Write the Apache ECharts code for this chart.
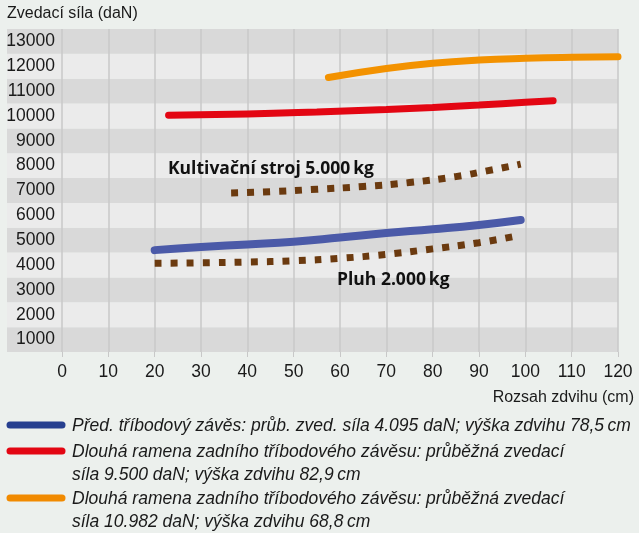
<!DOCTYPE html>
<html>
<head>
<meta charset="utf-8">
<script src="https://cdn.jsdelivr.net/npm/echarts@6/dist/echarts.min.js"></script>
<style>
html, body { margin: 0; padding: 0; background: #ecf0ed; }
#chart { width: 639px; height: 533px; }
</style>
</head>
<body>
<div id="chart"></div>
<script>
// tick labels
var yTicks = [1000, 2000, 3000, 4000, 5000, 6000, 7000, 8000, 9000, 10000, 11000, 12000, 13000];

// lifting force (daN) by lift range (cm)
var predni = [[20, 4600], [30, 4730], [40, 4830], [50, 4940], [60, 5110], [70, 5290], [80, 5440], [90, 5610], [99, 5810]];
var dlouhaRamena1 = [[23, 10030], [40, 10080], [55, 10160], [70, 10260], [80, 10340], [90, 10440], [100, 10550], [106, 10610]];
var dlouhaRamena2 = [[57.5, 11550], [70, 11910], [80, 12120], [90, 12250], [100, 12320], [110, 12360], [120, 12380]];
var kultivator = [[36.5, 6900], [45, 6950], [55, 7050], [65, 7160], [75, 7320], [85, 7560], [92, 7800], [99, 8060]];
var pluh = [[20, 4070], [30, 4090], [40, 4120], [50, 4170], [60, 4270], [70, 4430], [80, 4650], [90, 4900], [99, 5200]];

var legendNames = [
    'Před. tříbodový závěs: průb. zved. síla 4.095 daN; výška zdvihu 78,5\u2009cm',
    'Dlouhá ramena zadního tříbodového závěsu: průběžná zvedací\nsíla 9.500 daN; výška zdvihu 82,9\u2009cm',
    'Dlouhá ramena zadního tříbodového závěsu: průběžná zvedací\nsíla 10.982 daN; výška zdvihu 68,8\u2009cm'
];
var legendColors = ['#263f8f', '#e30613', '#f18a00'];
var legendY = [425, 451, 498];

var narrow = "'Liberation Sans Narrow', 'Liberation Sans', sans-serif";
var gridColor = '#c8c8c8';

var graphics = [
    { type: 'text', left: 7, top: 6, z: 100, style: { text: 'Zvedací síla (daN)', font: '16px ' + narrow, fill: '#1a1a1a' } },
    { type: 'text', right: 5, top: 390, z: 100, style: { text: 'Rozsah zdvihu (cm)', font: '16px ' + narrow, fill: '#1a1a1a' } },
    { type: 'text', left: 168, top: 160, z: 100, style: { text: 'Kultivační stroj 5.000\u2009kg', font: 'bold 17.5px "Open Sans", sans-serif', fill: '#111' } },
    { type: 'text', left: 337, top: 271, z: 100, style: { text: 'Pluh 2.000\u2009kg', font: 'bold 17.5px "Open Sans", sans-serif', fill: '#111' } }
];
legendNames.forEach(function (name, i) {
    graphics.push({
        type: 'line', z: 100,
        shape: { x1: 10, y1: legendY[i], x2: 62, y2: legendY[i] },
        style: { stroke: legendColors[i], lineWidth: 7, lineCap: 'round' }
    });
    graphics.push({
        type: 'text', left: 72, top: legendY[i] - 11, z: 100,
        style: { text: name, font: 'italic 17.5px ' + narrow, fill: '#1a1a1a', lineHeight: 23.5 }
    });
});

var chart = echarts.init(document.getElementById('chart'));
chart.setOption({
    backgroundColor: '#ecf0ed',
    animation: false,
    grid: [
        { left: 7, right: 21, top: 29, bottom: 181 },   // bands behind the labels
        { left: 62, right: 21, top: 29, bottom: 181 }   // data
    ],
    xAxis: [
        { gridIndex: 0, type: 'value', min: 0, max: 1, show: false },
        {
            gridIndex: 1, type: 'value', min: 0, max: 120, interval: 10,
            axisLine: { show: false },
            axisTick: { show: true, length: 5, lineStyle: { color: gridColor } },
            axisLabel: { color: '#1a1a1a', fontFamily: narrow, fontSize: 17.5, margin: 11 },
            splitLine: { show: true, lineStyle: { color: gridColor, width: 1.5 } }
        }
    ],
    yAxis: [
        {
            gridIndex: 0, type: 'value', min: 500, max: 13500, interval: 1000,
            axisLine: { show: false }, axisTick: { show: false }, axisLabel: { show: false },
            splitLine: { show: false },
            splitArea: { show: true, areaStyle: { color: ['#d9d9d9', '#ebebeb'] } }
        },
        {
            gridIndex: 1, type: 'value', min: 500, max: 13500,
            axisLine: { show: false }, axisTick: { show: false },
            splitLine: { show: false },
            axisLabel: {
                customValues: yTicks, color: '#1a1a1a', fontFamily: narrow, fontSize: 17.5, margin: 7,
                formatter: function (v) { return String(v); }
            }
        }
    ],
    graphic: graphics,
    series: [
        { name: legendNames[0], type: 'line', xAxisIndex: 1, yAxisIndex: 1, data: predni, smooth: true, symbol: 'none',
          lineStyle: { color: '#4b5aa8', width: 8, cap: 'round' } },
        { name: legendNames[1], type: 'line', xAxisIndex: 1, yAxisIndex: 1, data: dlouhaRamena1, smooth: true, symbol: 'none',
          lineStyle: { color: '#e30613', width: 7, cap: 'round' } },
        { name: legendNames[2], type: 'line', xAxisIndex: 1, yAxisIndex: 1, data: dlouhaRamena2, smooth: true, symbol: 'none',
          lineStyle: { color: '#f39200', width: 7, cap: 'round' } },
        { name: 'Kultivační stroj 5.000 kg', type: 'line', xAxisIndex: 1, yAxisIndex: 1, data: kultivator, smooth: true, symbol: 'none',
          lineStyle: { color: '#6b3a0f', width: 7, type: [7, 9], cap: 'butt' } },
        { name: 'Pluh 2.000 kg', type: 'line', xAxisIndex: 1, yAxisIndex: 1, data: pluh, smooth: true, symbol: 'none',
          lineStyle: { color: '#6b3a0f', width: 7, type: [7, 9], cap: 'butt' } }
    ]
});
</script>
</body>
</html>
